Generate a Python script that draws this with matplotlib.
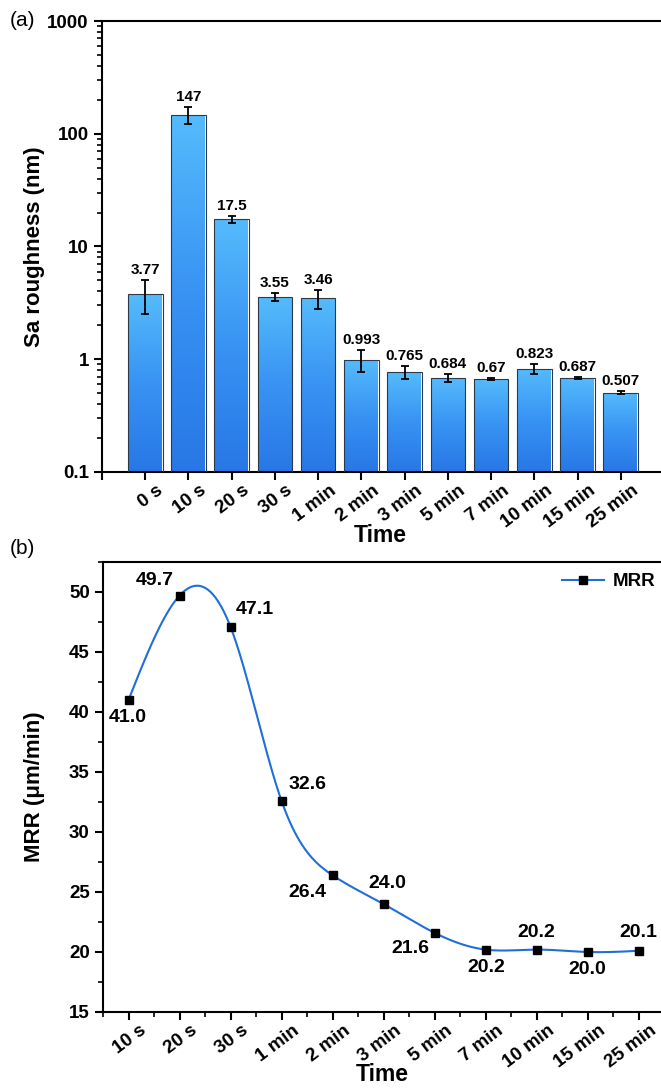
#!/usr/bin/env python3

import numpy as np
import matplotlib
matplotlib.use("Agg")
import matplotlib.pyplot as plt
from matplotlib.colors import LinearSegmentedColormap
from matplotlib.ticker import LogLocator, NullFormatter, FixedLocator, MultipleLocator
from matplotlib.transforms import ScaledTranslation

plt.rcParams['font.family'] = ['Liberation Sans', 'DejaVu Sans']
plt.rcParams['font.weight'] = 'bold'

# (a) surface roughness
sa_labels = ["0 s", "10 s", "20 s", "30 s", "1 min", "2 min", "3 min",
             "5 min", "7 min", "10 min", "15 min", "25 min"]
sa_values = [3.77, 147, 17.5, 3.55, 3.46, 0.993, 0.765, 0.684, 0.67, 0.823, 0.687, 0.507]
sa_errors = [1.27, 25, 1.3, 0.29, 0.67, 0.22, 0.10, 0.05, 0.015, 0.08, 0.015, 0.02]
sa_text = ["3.77", "147", "17.5", "3.55", "3.46", "0.993", "0.765", "0.684",
           "0.67", "0.823", "0.687", "0.507"]

# (b) material removal rate
mrr_labels = ["10 s", "20 s", "30 s", "1 min", "2 min", "3 min", "5 min",
              "7 min", "10 min", "15 min", "25 min"]
mrr_values = [41.0, 49.7, 47.1, 32.6, 26.4, 24.0, 21.6, 20.2, 20.2, 20.0, 20.1]
# label offsets in pixels (dx, dy)
mrr_offsets = [(-1, -18), (-25, 15), (24, 17), (26, 16), (-25, -17), (4, 20),
               (-24, -16), (1, -18), (0, 17), (0, -18), (0, 18)]


def natural_spline(x, y, num=400):
    x = np.asarray(x, float)
    y = np.asarray(y, float)
    n = len(x)
    h = np.diff(x)
    A = np.zeros((n, n))
    b = np.zeros(n)
    A[0, 0] = 1
    A[-1, -1] = 1
    for i in range(1, n - 1):
        A[i, i - 1] = h[i - 1]
        A[i, i] = 2 * (h[i - 1] + h[i])
        A[i, i + 1] = h[i]
        b[i] = 3 * ((y[i + 1] - y[i]) / h[i] - (y[i] - y[i - 1]) / h[i - 1])
    c = np.linalg.solve(A, b)
    bb = (y[1:] - y[:-1]) / h - h * (2 * c[:-1] + c[1:]) / 3
    d = (c[1:] - c[:-1]) / (3 * h)
    xs = np.linspace(x[0], x[-1], num)
    idx = np.clip(np.searchsorted(x, xs, side='right') - 1, 0, n - 2)
    t = xs - x[idx]
    ys = y[idx] + bb[idx] * t + c[idx] * t ** 2 + d[idx] * t ** 3
    return xs, ys


def style_axes(ax):
    for side in ['left', 'top', 'bottom']:
        ax.spines[side].set_linewidth(1.5)
    ax.spines['right'].set_visible(False)
    ax.tick_params(which='major', direction='out', length=6, width=1.5, labelsize=13.5)
    ax.tick_params(which='minor', direction='out', length=3.5, width=1.2)
    ax.tick_params(axis='x', which='major', pad=1)
    ax.tick_params(top=False, right=False)


def shift_xticklabels(ax, fig, dx_px):
    offset = ScaledTranslation(dx_px / fig.dpi, 0, fig.dpi_scale_trans)
    for lab in ax.get_xticklabels():
        lab.set_transform(lab.get_transform() + offset)


fig = plt.figure(figsize=(6.61, 10.91), dpi=100)

# ---------- (a) ----------
ax1 = fig.add_axes([102 / 661, 1 - 472 / 1091, 562 / 661, 451 / 1091])
x1 = np.arange(len(sa_values))
ax1.set_yscale('log')
ax1.set_xlim(-1, len(sa_values))
ax1.set_ylim(0.1, 1000)
ax1.set_autoscale_on(False)

grad_cmap = LinearSegmentedColormap.from_list("bar_grad", ["#2877e6", "#3893f3", "#55bbfc"])
grad = np.linspace(0, 1, 256).reshape(-1, 1)
bars = ax1.bar(x1, sa_values, width=0.8, color='none',
               edgecolor='#2b3a4a', linewidth=0.8, zorder=3)
for xi, bar, v in zip(x1, bars, sa_values):
    frac = ax1.transAxes.inverted().transform(ax1.transData.transform((xi, v)))[1]
    im = ax1.imshow(grad, cmap=grad_cmap, origin='lower', aspect='auto',
                    extent=(xi - 0.4, xi + 0.4, 0, frac),
                    transform=ax1.get_xaxis_transform(), zorder=2,
                    interpolation='bilinear')
    im.set_clip_path(bar)
ax1.errorbar(x1, sa_values, yerr=sa_errors, fmt='none', ecolor='black',
             elinewidth=1.3, capsize=3, capthick=1.3, zorder=4)
for xi, v, e, t in zip(x1, sa_values, sa_errors, sa_text):
    ax1.annotate(t, (xi, v + e), xytext=(0, 3), textcoords='offset pixels',
                 ha='center', va='bottom', fontsize=11, fontweight='bold', zorder=5)

style_axes(ax1)
ax1.yaxis.set_minor_locator(LogLocator(base=10, subs=np.arange(2, 10), numticks=10))
ax1.yaxis.set_minor_formatter(NullFormatter())
ax1.set_yticks([0.1, 1, 10, 100, 1000])
ax1.set_yticklabels(["0.1", "1", "10", "100", "1000"])
ax1.set_xticks(np.arange(-1, len(sa_values)))
ax1.set_xticklabels([""] + sa_labels, rotation=37, ha='right', va='top')
shift_xticklabels(ax1, fig, 21)
ax1.set_ylabel("Sa roughness (nm)", fontsize=16, fontweight='bold')
ax1.yaxis.set_label_coords(-0.101, 0.5)
ax1.set_xlabel("Time", fontsize=16.5, fontweight='bold')
ax1.xaxis.set_label_coords(0.495, -0.116)
fig.text(10 / 661, 1 - 20 / 1091, "(a)", fontsize=15, fontweight='normal',
         ha='left', va='center')

# ---------- (b) ----------
ax2 = fig.add_axes([103 / 661, 1 - 1012 / 1091, 561 / 661, 450 / 1091])
x2 = np.arange(1, len(mrr_values) + 1)
xs, ys = natural_spline(x2, mrr_values)
ax2.plot(xs, ys, color='#1f6fdb', linewidth=1.5, zorder=2)
ax2.plot(x2, mrr_values, linestyle='none', marker='s', markersize=6,
         color='black', zorder=3)
ax2.plot([], [], color='#1f6fdb', linewidth=1.5, marker='s', markersize=6,
         markerfacecolor='black', markeredgecolor='black', label='MRR')
for xi, v, (dx, dy) in zip(x2, mrr_values, mrr_offsets):
    ax2.annotate(f"{v:.1f}", (xi, v), xytext=(dx, dy), textcoords='offset pixels',
                 ha='center', va='center', fontsize=14, fontweight='bold')
ax2.set_xlim(0.5, len(mrr_values) + 0.5)
ax2.set_ylim(15, 52.5)
style_axes(ax2)
ax2.yaxis.set_major_locator(MultipleLocator(5))
ax2.yaxis.set_minor_locator(MultipleLocator(2.5))
ax2.xaxis.set_major_locator(FixedLocator(x2))
ax2.xaxis.set_minor_locator(FixedLocator(np.arange(0.5, len(mrr_values) + 1, 1)))
ax2.set_xticklabels(mrr_labels, rotation=37, ha='right', va='top')
shift_xticklabels(ax2, fig, 21)
ax2.set_ylabel("MRR (μm/min)", fontsize=16, fontweight='bold')
ax2.yaxis.set_label_coords(-0.103, 0.5)
ax2.set_xlabel("Time", fontsize=16.5, fontweight='bold')
ax2.xaxis.set_label_coords(0.497, -0.114)
leg = ax2.legend(loc='upper right', bbox_to_anchor=(1.005, 1.0), frameon=False,
                 fontsize=13.5, handlelength=2.2, handletextpad=0.5, borderaxespad=0.2)
for t in leg.get_texts():
    t.set_fontweight('bold')
fig.text(10 / 661, 1 - 548 / 1091, "(b)", fontsize=15, fontweight='normal',
         ha='left', va='center')

fig.savefig("out.png", dpi=100)
